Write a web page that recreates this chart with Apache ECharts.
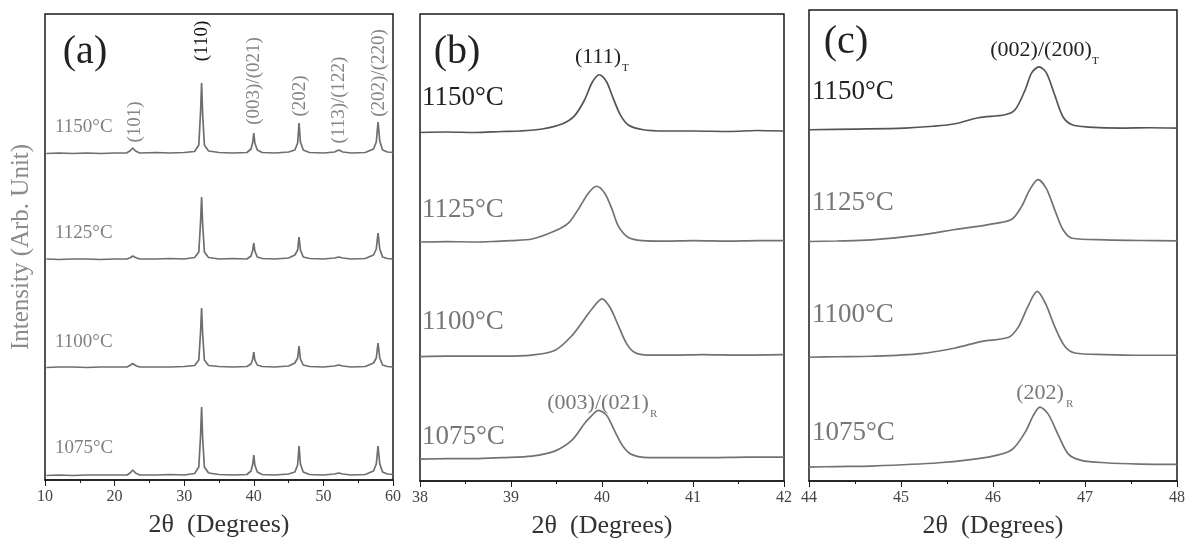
<!DOCTYPE html>
<html>
<head>
<meta charset="utf-8">
<title>XRD</title>
<script src="https://cdn.jsdelivr.net/npm/echarts@6/dist/echarts.min.js"></script>
<style>
html, body { margin:0; height:100%; background:#fff; }
#main { width:1190px; height:544px; }
</style>
</head>
<body>
<div id="main"></div>
<script>
// temperatures, top to bottom
var temps = ['1150°C', '1125°C', '1100°C', '1075°C'];

// panel (a): full scan 10-60, [2theta, intensity above own baseline]
var a1150 = [[10.2,0.5],[12,1],[14,0.5],[16,1],[18,0.5],[20,1],[21.7,1],[22.2,3],[22.6,6],[23.0,3],[23.6,1],[26,1.5],[28,1],[30,1.5],[31.5,2.5],[32.1,9],[32.35,42],[32.5,71],[32.65,40],[32.9,9],[33.5,3],[35,1.5],[37,1],[39,1.5],[39.6,5],[39.85,12],[40.0,21],[40.15,11],[40.5,4],[41.2,1.5],[43,1],[45,2],[45.9,4],[46.3,11],[46.5,31],[46.7,12],[47.1,4],[48,1.5],[50,1],[51.6,2],[52.2,4],[52.8,2],[54,1],[56,1.5],[57.2,5],[57.6,12],[57.85,32],[58.1,13],[58.5,4],[59.2,2],[60,1.5]];
var a1125 = [[10.2,1],[12,0.5],[14,1],[16,1],[18,0.5],[20,1],[21.8,1],[22.3,2.5],[22.6,4],[23.0,2.5],[23.6,1],[26,1],[28,1.5],[30,1],[31.5,2.5],[32.1,8],[32.35,38],[32.5,63],[32.65,36],[32.9,8],[33.5,2.5],[35,1],[37,1.5],[39,1],[39.6,4],[39.85,10],[40.0,17],[40.15,9],[40.5,3],[41.2,1.5],[43,1],[45,2],[45.9,5],[46.3,10],[46.5,23],[46.7,10],[47.1,3],[48,1.5],[50,1],[51.6,2],[52.2,3],[52.8,2],[54,1],[56,1.5],[57.2,5],[57.6,11],[57.85,27],[58.1,11],[58.5,3],[59.2,1.5],[60,1]];
var a1100 = [[10.2,0.5],[12,1],[14,1],[16,0.5],[18,1],[20,1],[21.8,1],[22.3,3],[22.6,4.5],[23.0,2.5],[23.6,1],[26,1],[28,1],[30,1.5],[31.5,2.5],[32.1,8],[32.35,36],[32.5,60],[32.65,34],[32.9,8],[33.5,2.5],[35,1.5],[37,1],[39,1.5],[39.6,4],[39.85,9],[40.0,16],[40.15,8],[40.5,3],[41.2,1.5],[43,1],[45,2],[45.9,5],[46.3,10],[46.5,22],[46.7,9],[47.1,3],[48,1.5],[50,1],[51.6,2],[52.2,3],[52.8,2],[54,1],[56,1.5],[57.2,5],[57.6,10],[57.85,25],[58.1,10],[58.5,3],[59.2,1.5],[60,1]];
var a1075 = [[10.2,0.5],[12,1],[14,0.5],[16,1],[18,1],[20,1],[21.8,1],[22.3,3.5],[22.6,6],[23.0,3],[23.6,1],[26,1],[28,1.5],[30,1],[31.5,2.5],[32.1,9],[32.35,40],[32.5,69],[32.65,38],[32.9,9],[33.5,3],[35,1.5],[37,1],[39,1.5],[39.6,5],[39.85,12],[40.0,21],[40.15,11],[40.5,4],[41.2,1.5],[43,1],[45,2],[45.9,4],[46.3,11],[46.5,30],[46.7,12],[47.1,4],[48,1.5],[50,1],[51.6,2],[52.2,3],[52.8,2],[54,1],[56,1.5],[57.2,5],[57.6,12],[57.85,30],[58.1,12],[58.5,4],[59.2,2],[60,1.5]];

// panel (b): 38-42
var b1150 = [[38.0,0],[38.3,0.5],[38.6,0],[38.9,1],[39.1,1.5],[39.34,3.5],[39.56,8.5],[39.7,17],[39.81,33],[39.89,50],[39.97,58],[40.05,51],[40.12,35],[40.2,18],[40.29,7.5],[40.44,3],[40.69,1.5],[41.0,1.5],[41.4,1],[41.7,2],[42.0,1.5]];
var b1125 = [[38.0,0],[38.3,0.5],[38.6,0],[38.8,0.5],[39.0,1.5],[39.23,3],[39.48,11],[39.63,19],[39.74,33],[39.85,49],[39.94,56],[40.03,49],[40.11,33],[40.18,16],[40.29,4.5],[40.44,1.5],[40.7,1],[41.0,1.5],[41.4,1],[41.7,1.5],[42.0,1.5]];
var b1100 = [[38.0,0],[38.3,0.5],[38.6,0.5],[38.9,0.5],[39.23,1.5],[39.48,6],[39.67,21],[39.81,38],[39.9,49],[40.0,58],[40.09,49],[40.18,31],[40.27,13],[40.36,4],[40.51,1.5],[40.8,1.5],[41.1,2],[41.5,1.5],[42.0,2]];
var b1075 = [[38.0,0],[38.3,0.5],[38.6,0.5],[38.9,1.5],[39.23,3],[39.48,8],[39.67,19],[39.81,36],[39.89,44],[39.96,49],[40.05,44],[40.14,28],[40.23,13],[40.33,4.5],[40.51,1.5],[40.8,1.5],[41.2,1.5],[41.6,2],[42.0,2]];

// panel (c): 44-48
var c1150 = [[44.0,0],[44.5,0.7],[45.04,1.7],[45.35,3.5],[45.59,6],[45.84,12],[46.13,15],[46.24,20],[46.35,40],[46.42,57],[46.5,63],[46.58,57],[46.67,35],[46.76,13],[46.86,5],[47.04,2.7],[47.4,1.7],[47.7,2],[48.0,1.7]];
var c1125 = [[44.0,0],[44.3,0.5],[44.68,1.7],[45.22,6.7],[45.59,12],[45.95,17],[46.2,22],[46.31,35],[46.4,52],[46.49,62],[46.58,53],[46.67,32],[46.76,12],[46.86,3.3],[47.22,1.7],[47.6,1],[48.0,0.7]];
var c1100 = [[44.0,0],[44.3,0.5],[44.68,1],[45.22,3.7],[45.59,9.3],[45.88,16],[46.17,20],[46.28,31],[46.38,51],[46.48,66],[46.57,54],[46.67,31],[46.78,11],[46.89,4.3],[47.22,2.7],[47.6,2],[48.0,2]];
var c1075 = [[44.0,0],[44.3,0.5],[44.68,1],[45.41,4.3],[45.95,10],[46.2,17],[46.35,35],[46.44,52],[46.51,60],[46.6,53],[46.71,32],[46.82,13],[46.96,6.7],[47.22,4.3],[47.6,3],[48.0,2.7]];

// vertical stacking offsets (arb. units), top to bottom
var offsetA = [326, 220, 112, 4];
var offsetB = [350, 240, 125, 22];
var offsetC = [352, 240, 124, 14];

var ticksA = [10, 60, 10];
var ticksB = [38, 42, 1];
var ticksC = [44, 48, 1];

var peaksA = ['(101)', '(110)', '(003)/(021)', '(202)', '(113)/(122)', '(202)/(220)'];

var serif = '"Liberation Serif", "Times New Roman", serif';
var myChart = echarts.init(document.getElementById('main'));

function shift(arr, off) {
    return arr.map(function (p) { return [p[0], p[1] + off]; });
}

function xAxisOf(idx, t) {
    return {
        type: 'value', gridIndex: idx, min: t[0], max: t[1], interval: t[2],
        name: '2θ  (Degrees)', nameLocation: 'middle', nameGap: 32,
        nameTextStyle: { fontFamily: serif, fontSize: 26, color: '#333' },
        axisLine: { lineStyle: { color: '#1a1a1a', width: 1.5 } },
        axisTick: { length: 6, lineStyle: { color: '#1a1a1a' } },
        minorTick: { show: true, splitNumber: 2, length: 3, lineStyle: { color: '#1a1a1a' } },
        axisLabel: { fontFamily: serif, fontSize: 16, color: '#444', margin: 9 },
        splitLine: { show: false }
    };
}

function yAxisOf(idx, h) {
    return {
        type: 'value', gridIndex: idx, min: 0, max: h,
        axisLine: { show: false }, axisTick: { show: false },
        axisLabel: { show: false }, splitLine: { show: false }
    };
}

function lineSeries(idx, arr, off, color, smooth) {
    return {
        type: 'line', xAxisIndex: idx, yAxisIndex: idx,
        data: shift(arr, off), showSymbol: false, smooth: smooth,
        lineStyle: { color: color, width: 1.7 }, silent: true
    };
}

var series = [];
[a1150, a1125, a1100, a1075].forEach(function (d, i) {
    series.push(lineSeries(0, d, offsetA[i], '#6e6e6e', false));
});
[b1150, b1125, b1100, b1075].forEach(function (d, i) {
    series.push(lineSeries(1, d, offsetB[i], i === 0 ? '#555' : '#727272', 0.3));
});
[c1150, c1125, c1100, c1075].forEach(function (d, i) {
    series.push(lineSeries(2, d, offsetC[i], i === 0 ? '#555' : '#727272', 0.3));
});

function txt(s, x, y, size, color, extra) {
    var e = {
        type: 'text', x: x, y: y, silent: true,
        style: { text: s, font: size + 'px ' + serif, fill: color,
                 align: 'left', verticalAlign: 'middle', textAlign: 'left', textVerticalAlign: 'middle' }
    };
    if (extra) {
        for (var k in extra) e[k] = extra[k];
        if (extra.center) { e.style.align = 'center'; e.style.textAlign = 'center'; }
    }
    return e;
}

var g = [];
// panel letters
g.push(txt('(a)', 85, 52, 40, '#222', { center: true }));
g.push(txt('(b)', 457, 52, 40, '#222', { center: true }));
g.push(txt('(c)', 846, 42, 40, '#222', { center: true }));
// temperature labels
var tyA = [127, 233, 342, 448], tyB = [98, 210, 322, 437], tyC = [92, 203, 315, 433];
temps.forEach(function (t, i) {
    g.push(txt(t, 55, tyA[i], 19, '#808080'));
    g.push(txt(t, 422, tyB[i], 27, i === 0 ? '#222' : '#777'));
    g.push(txt(t, 812, tyC[i], 27, i === 0 ? '#222' : '#777'));
});
// rotated peak labels in (a)
var pxA = [135, 202, 254, 300, 339, 379], pyA = [122, 41, 81, 96, 100, 73];
peaksA.forEach(function (p, i) {
    g.push(txt(p, pxA[i], pyA[i], 19, i === 1 ? '#111' : '#858585', { center: true, rotation: Math.PI / 2 }));
});
// indexed peaks in (b), (c)
g.push(txt('(111)', 598, 57, 22, '#222', { center: true }));
g.push(txt('T', 622, 68, 11, '#222'));
g.push(txt('(003)/(021)', 598, 403, 22, '#777', { center: true }));
g.push(txt('R', 650, 414, 11, '#777'));
g.push(txt('(002)/(200)', 1041, 50, 22, '#222', { center: true }));
g.push(txt('T', 1092, 61, 11, '#222'));
g.push(txt('(202)', 1040, 393, 22, '#777', { center: true }));
g.push(txt('R', 1066, 404, 11, '#777'));

var option = {
    backgroundColor: '#fff',
    animation: false,
    grid: [
        { left: 45, top: 14, width: 348, height: 466, show: true, borderColor: '#1a1a1a', borderWidth: 1.5 },
        { left: 420, top: 14, width: 364, height: 469, show: true, borderColor: '#1a1a1a', borderWidth: 1.5 },
        { left: 809, top: 10, width: 368, height: 472, show: true, borderColor: '#1a1a1a', borderWidth: 1.5 }
    ],
    xAxis: [xAxisOf(0, ticksA), xAxisOf(1, ticksB), xAxisOf(2, ticksC)],
    yAxis: [yAxisOf(0, 466), yAxisOf(1, 469), yAxisOf(2, 472)],
    series: series,
    graphic: g
};
option.yAxis[0].name = 'Intensity (Arb. Unit)';
option.yAxis[0].nameLocation = 'middle';
option.yAxis[0].nameGap = 11;
option.yAxis[0].nameTextStyle = { fontFamily: serif, fontSize: 25, color: '#8a8a8a' };

myChart.setOption(option);
</script>
</body>
</html>
